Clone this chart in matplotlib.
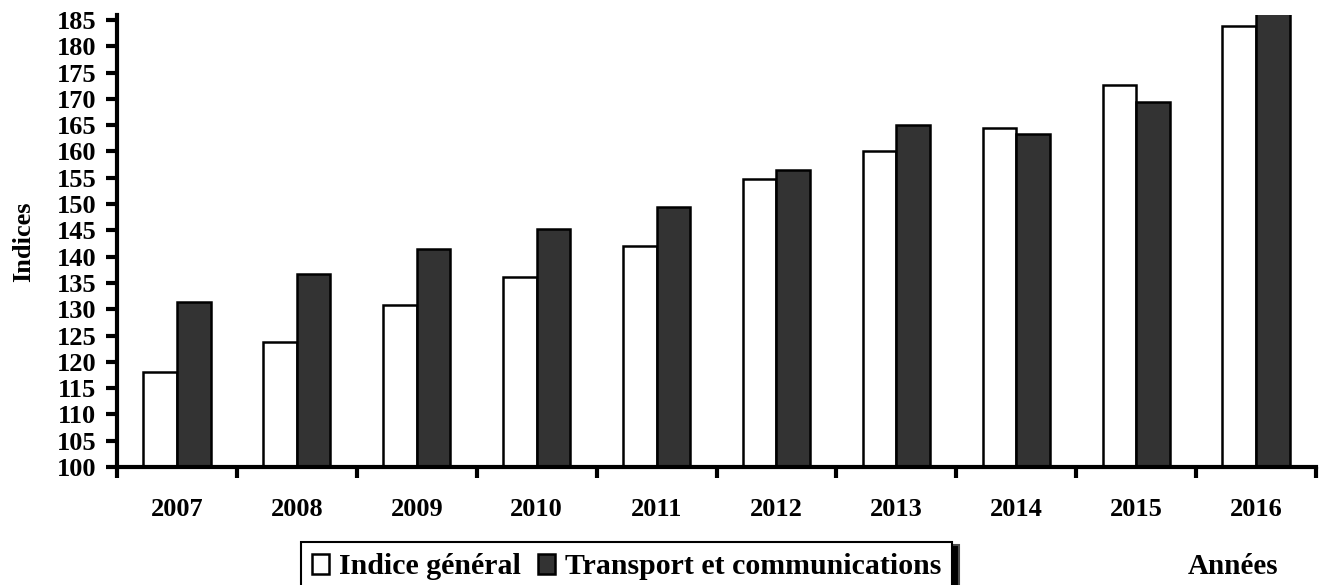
import numpy as np
import matplotlib
matplotlib.use('Agg')
import matplotlib.pyplot as plt

years = ['2007', '2008', '2009', '2010', '2011', '2012', '2013', '2014', '2015', '2016']
general = [118.1, 123.8, 130.8, 136.1, 142.0, 154.8, 160.1, 164.4, 172.6, 183.8]
transport = [131.4, 136.7, 141.5, 145.2, 149.4, 156.5, 165.0, 163.4, 169.4, 188.0]

plt.rcParams['font.family'] = 'Liberation Serif'
plt.rcParams['font.weight'] = 'bold'

fig = plt.figure(figsize=(13.28, 5.85), dpi=100)
ax = fig.add_axes([117/1328, 1-467/585, 1199/1328, 452/585])

x = np.arange(len(years))
w = 0.28
ax.bar(x - w/2, general, w, color='white', edgecolor='black', linewidth=1.8,
       label='Indice général')
ax.bar(x + w/2, transport, w, color='#333333', edgecolor='black', linewidth=1.8,
       label='Transport et communications')

ax.set_xlim(-0.5, len(years) - 0.5)
ax.set_ylim(100, 185.95)
ax.set_yticks(np.arange(100, 186, 5))
ax.set_xticks(np.arange(-0.5, len(years), 1))
ax.set_xticklabels([])
ax.set_xticks(x, minor=True)
ax.set_xticklabels(years, minor=True)

for s in ['top', 'right']:
    ax.spines[s].set_visible(False)
for s in ['left', 'bottom']:
    ax.spines[s].set_linewidth(3)

ax.tick_params(axis='y', direction='out', length=8, width=3, pad=7, labelsize=19)
ax.tick_params(axis='x', which='major', direction='out', length=8, width=3)
ax.tick_params(axis='x', which='minor', length=0, pad=22, labelsize=19)

# y label placed by hand
fig.text(24/1328, 1-242/585, 'Indices', fontsize=19, fontweight='bold',
         rotation=90, ha='center', va='center')

leg = fig.legend(loc='upper left', bbox_to_anchor=(301/1328, 1-542/585), ncol=2,
                 fontsize=21.5, frameon=True, fancybox=False,
                 shadow={'ox': 5, 'oy': -2, 'facecolor': 'black', 'alpha': 1},
                 handlelength=0.55, handleheight=0.62, handletextpad=0.34,
                 columnspacing=0.58, borderpad=0.38, borderaxespad=0)
leg.get_frame().set_edgecolor('black')
leg.get_frame().set_linewidth(1.5)

fig.text(1233/1328, 1-566/585, 'Années', fontsize=21, fontweight='bold',
         ha='center', va='center')

fig.savefig('out.png', dpi=100)
